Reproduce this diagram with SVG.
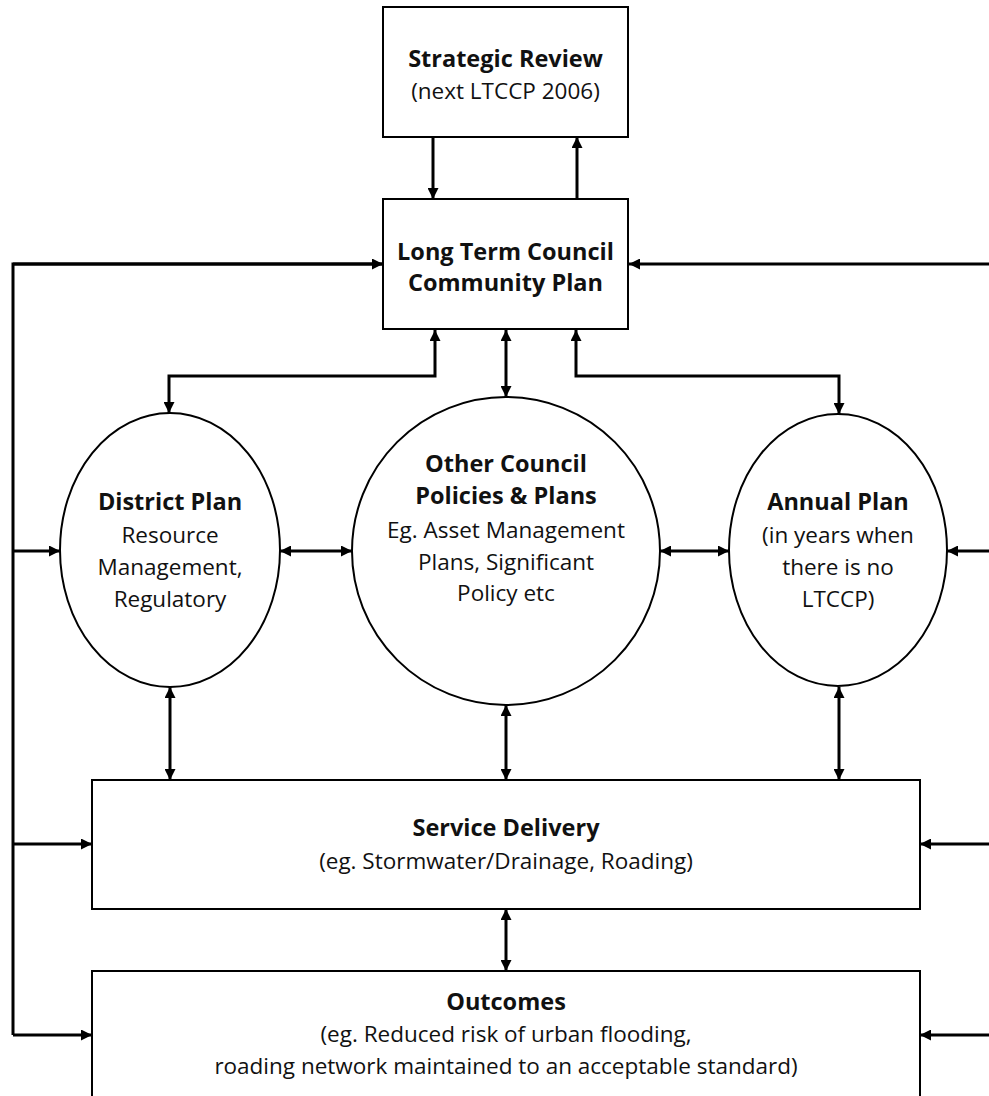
<svg xmlns="http://www.w3.org/2000/svg" width="989" height="1096" viewBox="0 0 989 1096">
<defs>
<style>
.box{fill:#fff;stroke:#000;stroke-width:2}
.c{fill:none;stroke:#000;stroke-width:3}
text{font-family:"Open Sans","Liberation Sans",sans-serif;font-size:22.5px;fill:#111;text-anchor:middle}
.b{font-weight:bold;font-size:23.5px}
</style>
<marker id="ah" viewBox="0 0 10 10" refX="10" refY="5" markerWidth="12" markerHeight="11" markerUnits="userSpaceOnUse" orient="auto-start-reverse">
<path d="M0,0 L10,5 L0,10 z" fill="#000"/>
</marker>
</defs>
<rect width="989" height="1096" fill="#fff"/>
<g id="connectors">
<line class="c" x1="433" y1="137" x2="433" y2="199" marker-end="url(#ah)"/>
<line class="c" x1="577" y1="199" x2="577" y2="137" marker-end="url(#ah)"/>
<path class="c" d="M383,264 H13 V1035"/>
<line class="c" x1="13" y1="264" x2="383" y2="264" marker-end="url(#ah)"/>
<line class="c" x1="13" y1="551" x2="60" y2="551" marker-end="url(#ah)"/>
<line class="c" x1="13" y1="844" x2="92" y2="844" marker-end="url(#ah)"/>
<line class="c" x1="13" y1="1035" x2="92" y2="1035" marker-end="url(#ah)"/>
<line class="c" x1="989" y1="264" x2="629" y2="264" marker-end="url(#ah)"/>
<line class="c" x1="989" y1="551" x2="947" y2="551" marker-end="url(#ah)"/>
<line class="c" x1="989" y1="844" x2="920" y2="844" marker-end="url(#ah)"/>
<line class="c" x1="989" y1="1035" x2="920" y2="1035" marker-end="url(#ah)"/>
<path class="c" d="M435,330 V376 H169 V413" marker-start="url(#ah)" marker-end="url(#ah)"/>
<line class="c" x1="506" y1="330" x2="506" y2="397" marker-start="url(#ah)" marker-end="url(#ah)"/>
<path class="c" d="M576,330 V376 H839 V414" marker-start="url(#ah)" marker-end="url(#ah)"/>
<line class="c" x1="280" y1="551" x2="352" y2="551" marker-start="url(#ah)" marker-end="url(#ah)"/>
<line class="c" x1="660" y1="551" x2="729" y2="551" marker-start="url(#ah)" marker-end="url(#ah)"/>
<line class="c" x1="170" y1="687" x2="170" y2="780" marker-start="url(#ah)" marker-end="url(#ah)"/>
<line class="c" x1="506" y1="705" x2="506" y2="780" marker-start="url(#ah)" marker-end="url(#ah)"/>
<line class="c" x1="839" y1="687" x2="839" y2="780" marker-start="url(#ah)" marker-end="url(#ah)"/>
<line class="c" x1="506" y1="909" x2="506" y2="971" marker-start="url(#ah)" marker-end="url(#ah)"/>
</g>
<g id="strategic-review">
<rect class="box" x="383" y="7" width="245" height="130"/>
<text class="b" x="505.5" y="67">Strategic Review</text>
<text x="505.5" y="99">(next LTCCP 2006)</text>
</g>
<g id="ltccp">
<rect class="box" x="383" y="199" width="245" height="130"/>
<text class="b" x="505.5" y="260">Long Term Council</text>
<text class="b" x="505.5" y="291">Community Plan</text>
</g>
<g id="district-plan">
<ellipse class="box" cx="170" cy="550" rx="110" ry="137"/>
<text class="b" x="170" y="510">District Plan</text>
<text x="170" y="543">Resource</text>
<text x="170" y="575">Management,</text>
<text x="170" y="607">Regulatory</text>
</g>
<g id="other-council">
<ellipse class="box" cx="506" cy="551" rx="154" ry="154"/>
<text class="b" x="506" y="472">Other Council</text>
<text class="b" x="506" y="504">Policies &amp; Plans</text>
<text x="506" y="538">Eg. Asset Management</text>
<text x="506" y="570">Plans, Significant</text>
<text x="506" y="601">Policy etc</text>
</g>
<g id="annual-plan">
<ellipse class="box" cx="838" cy="550" rx="109" ry="136"/>
<text class="b" x="838" y="510">Annual Plan</text>
<text x="838" y="543">(in years when</text>
<text x="838" y="575">there is no</text>
<text x="838" y="607">LTCCP)</text>
</g>
<g id="service-delivery">
<rect class="box" x="92" y="780" width="828" height="129"/>
<text class="b" x="506" y="836">Service Delivery</text>
<text x="506" y="869">(eg. Stormwater/Drainage, Roading)</text>
</g>
<g id="outcomes">
<rect class="box" x="92" y="971" width="828" height="140"/>
<text class="b" x="506" y="1010">Outcomes</text>
<text x="506" y="1042">(eg. Reduced risk of urban flooding,</text>
<text x="506" y="1074">roading network maintained to an acceptable standard)</text>
</g>
</svg>
